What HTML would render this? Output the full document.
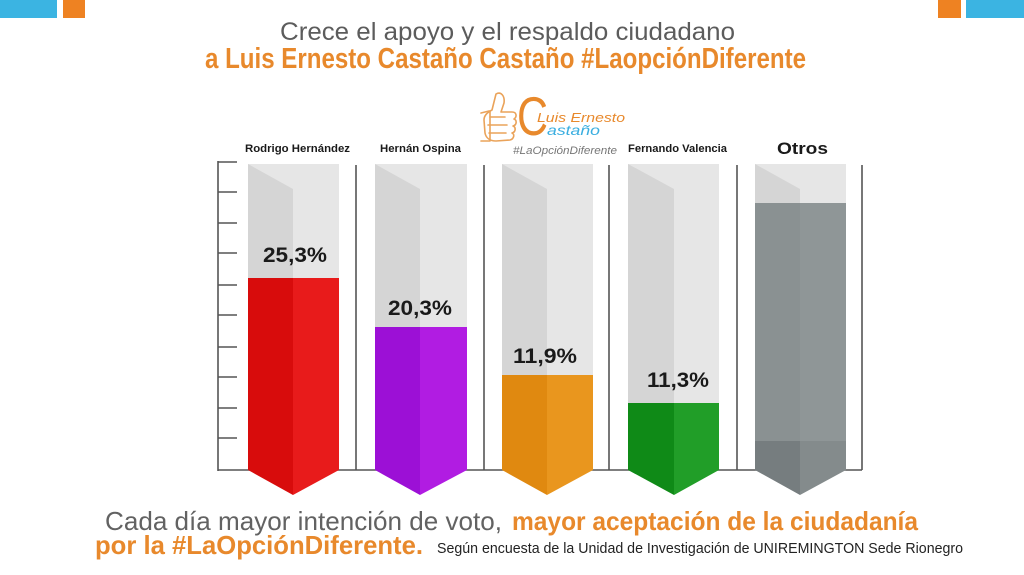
<!DOCTYPE html>
<html><head><meta charset="utf-8">
<style>
html,body{margin:0;padding:0;background:#fff;width:1024px;height:575px;overflow:hidden}
svg{display:block}
text{font-family:"Liberation Sans",sans-serif}
</style></head>
<body>
<svg width="1024" height="575" viewBox="0 0 1024 575" xmlns="http://www.w3.org/2000/svg">
<rect width="1024" height="575" fill="#fff"/>
<!-- corner blocks -->
<rect x="0" y="0" width="57" height="18" fill="#3bb4e2"/>
<rect x="63" y="0" width="22" height="18" fill="#ee8222"/>
<rect x="938" y="0" width="23" height="18" fill="#ee8222"/>
<rect x="966" y="0" width="58" height="18" fill="#3bb4e2"/>

<!-- title -->
<text x="280" y="40" font-size="25" fill="#5c5c5c" textLength="455" lengthAdjust="spacingAndGlyphs">Crece el apoyo y el respaldo ciudadano</text>
<text x="205" y="68" font-size="29" font-weight="bold" fill="#e8892c" textLength="601" lengthAdjust="spacingAndGlyphs">a Luis Ernesto Castaño Castaño #LaopciónDiferente</text>

<!-- logo -->
<g fill="none" stroke="#eaa35a" stroke-width="1.6" stroke-linecap="round" stroke-linejoin="round">
  <path d="M496 94 C501 91 505 96 504 103 L501 112 L512 112 C517 112 517 117 514 119 C517 120 517 125 513 126 C516 127 516 132 512 133 C515 134 514 139 510 140 L496 141 C490 141 486 138 485 133 L484 120 C484 115 488 112 492 110 Z"/>
  <path d="M490 117 L505 117 M488 125 L507 125 M489 133 L506 133"/>
  <path d="M481 113 L489 111 M481 141 L490 141 L490 111"/>
</g>
<text x="517" y="135" font-size="55" fill="#e8892c" textLength="31" lengthAdjust="spacingAndGlyphs">C</text>
<text x="537" y="122" font-size="13" font-style="italic" fill="#e8892c" textLength="88" lengthAdjust="spacingAndGlyphs">Luis Ernesto</text>
<text x="547" y="135" font-size="14" font-style="italic" fill="#3aaee0" textLength="53" lengthAdjust="spacingAndGlyphs">astaño</text>
<text x="513" y="154" font-size="11" font-style="italic" fill="#777" textLength="104" lengthAdjust="spacingAndGlyphs">#LaOpciónDiferente</text>

<!-- category labels -->
<g font-weight="bold" fill="#1a1a1a">
<text x="245" y="152" font-size="11" textLength="105" lengthAdjust="spacingAndGlyphs">Rodrigo Hernández</text>
<text x="380" y="152" font-size="11" textLength="81" lengthAdjust="spacingAndGlyphs">Hernán Ospina</text>
<text x="628" y="152" font-size="11" textLength="99" lengthAdjust="spacingAndGlyphs">Fernando Valencia</text>
<text x="777" y="154" font-size="17" textLength="51" lengthAdjust="spacingAndGlyphs">Otros</text>
</g>

<!-- axis -->
<g stroke="#555" stroke-width="1.6">
<line x1="218" y1="161" x2="218" y2="471"/>
<line x1="218" y1="162" x2="237" y2="162"/>
<line x1="218" y1="192" x2="237" y2="192"/>
<line x1="218" y1="223" x2="237" y2="223"/>
<line x1="218" y1="253" x2="237" y2="253"/>
<line x1="218" y1="285" x2="237" y2="285"/>
<line x1="218" y1="315" x2="237" y2="315"/>
<line x1="218" y1="347" x2="237" y2="347"/>
<line x1="218" y1="377" x2="237" y2="377"/>
<line x1="218" y1="408" x2="237" y2="408"/>
<line x1="218" y1="438" x2="237" y2="438"/>
<line x1="218" y1="470" x2="862" y2="470"/>
<line x1="356" y1="165" x2="356" y2="470"/>
<line x1="484" y1="165" x2="484" y2="470"/>
<line x1="609" y1="165" x2="609" y2="470"/>
<line x1="737" y1="165" x2="737" y2="470"/>
<line x1="862" y1="165" x2="862" y2="470"/>
</g>

<!-- bar 1 red -->
<g>
<rect x="248" y="164" width="91" height="306" fill="#e6e6e6"/>
<polygon points="248,164 293,189 293,278 248,278" fill="#d5d5d5"/>
<polygon points="248,278 293,278 293,495 248,470" fill="#d80c0c"/>
<polygon points="293,278 339,278 339,470 293,495" fill="#e81b1b"/>
</g>
<!-- bar 2 purple -->
<g>
<rect x="375" y="164" width="92" height="306" fill="#e6e6e6"/>
<polygon points="375,164 420,189 420,327 375,327" fill="#d5d5d5"/>
<polygon points="375,327 420,327 420,495 375,470" fill="#9c10d6"/>
<polygon points="420,327 467,327 467,470 420,495" fill="#b11ce2"/>
</g>
<!-- bar 3 orange -->
<g>
<rect x="502" y="164" width="91" height="306" fill="#e6e6e6"/>
<polygon points="502,164 547,189 547,375 502,375" fill="#d5d5d5"/>
<polygon points="502,375 547,375 547,495 502,470" fill="#e08910"/>
<polygon points="547,375 593,375 593,470 547,495" fill="#e9961e"/>
</g>
<!-- bar 4 green -->
<g>
<rect x="628" y="164" width="91" height="306" fill="#e6e6e6"/>
<polygon points="628,164 674,189 674,403 628,403" fill="#d5d5d5"/>
<polygon points="628,403 674,403 674,495 628,470" fill="#0f8a17"/>
<polygon points="674,403 719,403 719,470 674,495" fill="#219e28"/>
</g>
<!-- bar 5 gray -->
<g>
<rect x="755" y="164" width="91" height="306" fill="#e6e6e6"/>
<polygon points="755,164 800,189 800,203 755,203" fill="#d5d5d5"/>
<rect x="755" y="203" width="45" height="238" fill="#8a9192"/>
<rect x="800" y="203" width="46" height="238" fill="#8f9697"/>
<polygon points="755,441 800,441 800,495 755,470" fill="#767d7f"/>
<polygon points="800,441 846,441 846,470 800,495" fill="#848b8c"/>
</g>

<!-- values -->
<g font-weight="bold" fill="#1a1a1a" font-size="21">
<text x="263" y="262" textLength="64" lengthAdjust="spacingAndGlyphs">25,3%</text>
<text x="388" y="315" textLength="64" lengthAdjust="spacingAndGlyphs">20,3%</text>
<text x="513" y="363" textLength="64" lengthAdjust="spacingAndGlyphs">11,9%</text>
<text x="647" y="387" textLength="62" lengthAdjust="spacingAndGlyphs">11,3%</text>
</g>

<!-- bottom text -->
<text x="105" y="530" font-size="26" fill="#626262" textLength="397" lengthAdjust="spacingAndGlyphs">Cada día mayor intención de voto,</text>
<text x="512" y="530" font-size="26" font-weight="bold" fill="#e8892c" textLength="406" lengthAdjust="spacingAndGlyphs">mayor aceptación de la ciudadanía</text>
<text x="95" y="554" font-size="26" font-weight="bold" fill="#e8892c" textLength="328" lengthAdjust="spacingAndGlyphs">por la #LaOpciónDiferente.</text>
<text x="437" y="553" font-size="15" fill="#222" textLength="526" lengthAdjust="spacingAndGlyphs">Según encuesta de la Unidad de Investigación de UNIREMINGTON Sede Rionegro</text>
</svg>
</body></html>
